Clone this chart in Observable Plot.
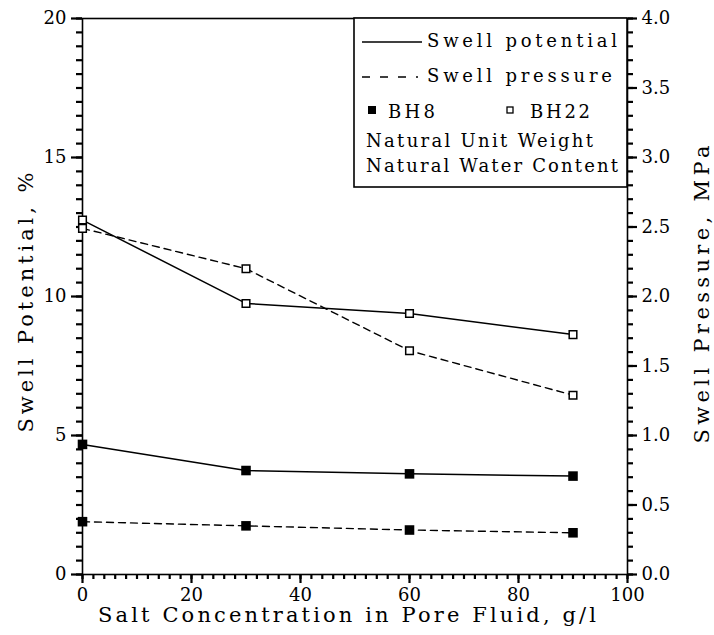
<!DOCTYPE html>
<html>
<head>
<meta charset="utf-8">
<script src="https://cdn.jsdelivr.net/npm/d3@7"></script>
<script src="https://cdn.jsdelivr.net/npm/@observablehq/plot@0.6"></script>
<style>
  html, body { margin: 0; padding: 0; background: #fff; }
  #chart svg { display: block; }
</style>
</head>
<body>
<div id="chart"></div>
<script>
// Salt concentration in the pore fluid (g/l)
const salt = [0, 30, 60, 90];
// Swell potential (%)
const bh8Potential = [4.68, 3.74, 3.62, 3.54];
const bh22Potential = [12.75, 9.75, 9.39, 8.63];
// Swell pressure (MPa)
const bh8Pressure = [0.38, 0.35, 0.32, 0.30];
const bh22Pressure = [2.49, 2.20, 1.61, 1.29];
// Axis tick labels
const leftTicks = [0, 5, 10, 15, 20];
const rightTicks = [0, 0.5, 1.0, 1.5, 2.0, 2.5, 3.0, 3.5, 4.0];
const xTicks = [0, 20, 40, 60, 80, 100];

const xTitle = "Salt Concentration in Pore Fluid, g/l";
const yLeftTitle = "Swell Potential, %";
const yRightTitle = "Swell Pressure, MPa";

// The right axis (0–4 MPa) spans the same height as the left one (0–20 %)
const mpaPerPercent = 4 / 20;

const rows = [];
salt.forEach((s, i) => {
  rows.push({salt: s, hole: "BH8", kind: "potential", y: bh8Potential[i]});
  rows.push({salt: s, hole: "BH22", kind: "potential", y: bh22Potential[i]});
  rows.push({salt: s, hole: "BH8", kind: "pressure", y: bh8Pressure[i] / mpaPerPercent});
  rows.push({salt: s, hole: "BH22", kind: "pressure", y: bh22Pressure[i] / mpaPerPercent});
});
const potential = rows.filter(d => d.kind === "potential");
const pressure = rows.filter(d => d.kind === "pressure");

const font = "DejaVu Serif";
const axisStyle = {stroke: "#000", strokeWidth: 2.2, label: null};

const svg = Plot.plot({
  width: 714,
  height: 635,
  marginLeft: 82,
  marginRight: 87,
  marginTop: 18,
  marginBottom: 61,
  style: {fontFamily: font, fontSize: "18px", background: "#fff", color: "#000"},
  x: {domain: [0, 100]},
  y: {domain: [0, 20]},
  marks: [
    // left axis: minor every 0.5 %, major every 5 %
    Plot.axisY(d3.range(0, 20.001, 0.5), {...axisStyle, anchor: "left", tickSize: 6, tickFormat: () => ""}),
    Plot.axisY(leftTicks, {...axisStyle, anchor: "left", tickSize: 11, tickPadding: 5}),
    // right axis in MPa: minor every 0.1, major every 0.5
    Plot.axisY(d3.range(0, 20.001, 0.5), {...axisStyle, anchor: "right", tickSize: 5, tickFormat: () => ""}),
    Plot.axisY(rightTicks.map(v => v / mpaPerPercent), {
      ...axisStyle, anchor: "right", tickSize: 9, tickPadding: 5,
      tickFormat: d => (d * mpaPerPercent).toFixed(1)
    }),
    // x axis: minor every 2 g/l, major every 20
    Plot.axisX(d3.range(0, 100.001, 2), {...axisStyle, anchor: "bottom", tickSize: 5, tickFormat: () => ""}),
    Plot.axisX(xTicks, {...axisStyle, anchor: "bottom", tickSize: 9, tickPadding: 5}),
    Plot.frame({stroke: "#000", strokeWidth: 1.6}),

    // series: solid = swell potential, dashed = swell pressure
    Plot.line(potential, {x: "salt", y: "y", z: "hole", stroke: "#000", strokeWidth: 1.5}),
    Plot.line(pressure, {x: "salt", y: "y", z: "hole", stroke: "#000", strokeWidth: 1.4, strokeDasharray: "7,5"}),
    Plot.dot(rows.filter(d => d.hole === "BH8"), {x: "salt", y: "y", symbol: "square", r: 5.4, fill: "#000", stroke: "none"}),
    Plot.dot(rows.filter(d => d.hole === "BH22"), {x: "salt", y: "y", symbol: "square", r: 4.3, fill: "#fff", stroke: "#000", strokeWidth: 1.5}),

    // axis titles
    Plot.text([xTitle], {frameAnchor: "bottom", dx: -8, dy: 41, fontSize: 21, textAnchor: "middle", lineAnchor: "middle"}),
    Plot.text([yLeftTitle], {frameAnchor: "left", dx: -56, dy: 6, rotate: -90, fontSize: 21, textAnchor: "middle", lineAnchor: "middle"}),
    Plot.text([yRightTitle], {frameAnchor: "right", dx: 75, dy: -2, rotate: -90, fontSize: 21, textAnchor: "middle", lineAnchor: "middle"})
  ]
});

const root = d3.select(svg);
// spread the titles over their full lengths
const titleLengths = {[xTitle]: 498, [yLeftTitle]: 260, [yRightTitle]: 298};
root.selectAll("text").filter(function () { return this.textContent in titleLengths; })
  .attr("textLength", function () { return titleLengths[this.textContent]; })
  .attr("lengthAdjust", "spacing");

// legend box in the upper right corner
const lg = root.append("g").attr("font-family", font).attr("font-size", 18)
  .attr("fill", "#000").attr("text-anchor", "start");
lg.append("rect").attr("x", 354).attr("y", 18).attr("width", 273).attr("height", 169)
  .attr("fill", "#fff").attr("stroke", "#000").attr("stroke-width", 1.6);
lg.append("line").attr("x1", 362).attr("x2", 422).attr("y1", 42).attr("y2", 42)
  .attr("stroke", "#000").attr("stroke-width", 1.5);
lg.append("line").attr("x1", 362).attr("x2", 418).attr("y1", 77).attr("y2", 77)
  .attr("stroke", "#000").attr("stroke-width", 1.4).attr("stroke-dasharray", "8,10");
lg.append("rect").attr("x", 368).attr("y", 106).attr("width", 8).attr("height", 8).attr("fill", "#000");
lg.append("rect").attr("x", 507).attr("y", 107).attr("width", 6).attr("height", 6)
  .attr("fill", "#fff").attr("stroke", "#000").attr("stroke-width", 1.3);
const legendTexts = [
  {t: "Swell potential", x: 427, y: 47, w: 190},
  {t: "Swell pressure", x: 427, y: 82, w: 185},
  {t: "BH8", x: 388, y: 118, w: 47},
  {t: "BH22", x: 530, y: 118, w: 60},
  {t: "Natural Unit Weight", x: 366, y: 147, w: 227},
  {t: "Natural Water Content", x: 366, y: 172, w: 252}
];
lg.selectAll("text.item").data(legendTexts).join("text").attr("class", "item")
  .attr("x", d => d.x).attr("y", d => d.y)
  .attr("textLength", d => d.w).attr("lengthAdjust", "spacing")
  .text(d => d.t);

document.getElementById("chart").appendChild(svg);
</script>
</body>
</html>
